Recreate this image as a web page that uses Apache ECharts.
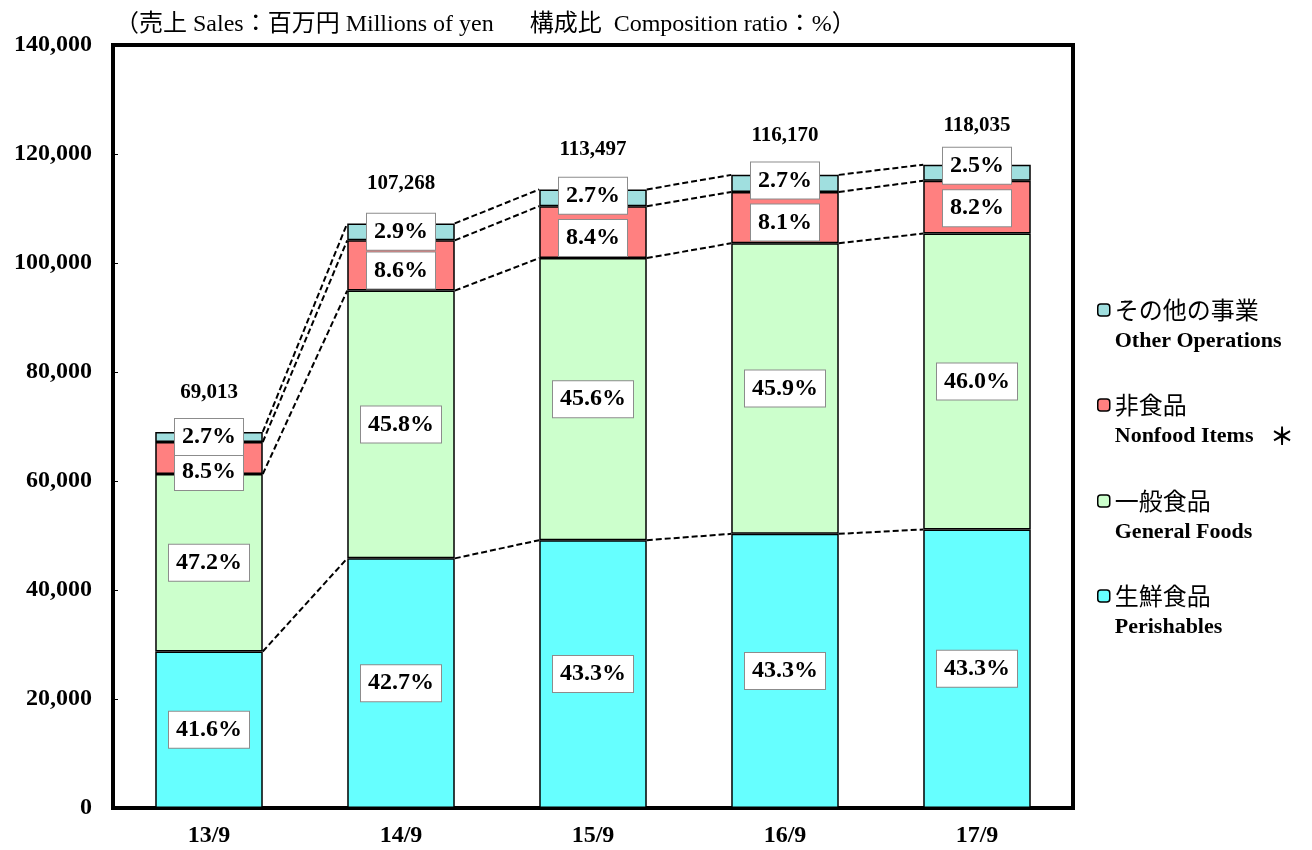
<!DOCTYPE html>
<html>
<head>
<meta charset="utf-8">
<script src="https://cdn.jsdelivr.net/npm/echarts@6/dist/echarts.min.js"></script>
<style>
  html, body { margin: 0; padding: 0; background: #fff; }
  #chart { width: 1312px; height: 850px; }
</style>
</head>
<body>
<div id="chart"></div>
<script>
// 決算期
var periods = ['13/9', '14/9', '15/9', '16/9', '17/9'];
// 売上合計 (百万円)
var totals = [69013, 107268, 113497, 116170, 118035];
// 部門別売上 (百万円) - 構成比から読み取り
var perishables = [28709, 45803, 49144, 50302, 51109];
var generalFoods = [32574, 49129, 51755, 53322, 54296];
var nonfood = [5866, 9225, 9534, 9410, 9679];
var other = [1864, 3111, 3064, 3136, 2951];
// 構成比 (%)
var pctPerishables = ['41.6', '42.7', '43.3', '43.3', '43.3'];
var pctGeneral = ['47.2', '45.8', '45.6', '45.9', '46.0'];
var pctNonfood = ['8.5', '8.6', '8.4', '8.1', '8.2'];
var pctOther = ['2.7', '2.9', '2.7', '2.7', '2.5'];

var serif = '"Liberation Serif", "Noto Sans CJK JP", serif';
var jp = '"Noto Sans CJK JP", sans-serif';
var barRatio = 0.56;

// 積み上げの境界（点線用）
var cum = periods.map(function (p, i) {
  var a = perishables[i];
  var b = a + generalFoods[i];
  var c = b + nonfood[i];
  var d = c + other[i];
  return [i, a, b, c, d];
});

function fmtNum(v) {
  return v.toString().replace(/\B(?=(\d{3})+(?!\d))/g, ',');
}

function pctLabel(arr) {
  return {
    show: true,
    position: 'inside',
    formatter: function (p) { return arr[p.dataIndex] + '%'; },
    color: '#000',
    fontFamily: serif,
    fontWeight: 'bold',
    fontSize: 24,
    backgroundColor: '#fff',
    borderColor: '#8c8c8c',
    borderWidth: 1,
    padding: [7, 7, 5, 7]
  };
}

function barSeries(name, data, color, pcts, shifts) {
  var s = {
    name: name,
    type: 'bar',
    stack: 'sales',
    barWidth: (barRatio * 100) + '%',
    data: data,
    itemStyle: { color: color, borderColor: '#000', borderWidth: 1.5 },
    label: pctLabel(pcts)
  };
  if (shifts) {
    s.labelLayout = function (p) { return { dy: shifts[p.dataIndex] }; };
  }
  return s;
}

var chart = echarts.init(document.getElementById('chart'));

chart.setOption({
  animation: false,
  title: {
    text: '（売上 Sales：百万円 Millions of yen　  構成比  Composition ratio：%）',
    left: 110,
    top: 8,
    textStyle: { fontFamily: serif, fontWeight: 'normal', fontSize: 24, color: '#000' }
  },
  grid: {
    left: 113, right: 239, top: 45, bottom: 42,
    show: true, borderColor: '#000', borderWidth: 4
  },
  legend: {
    orient: 'vertical',
    left: 1092,
    top: 269,
    itemGap: 17,
    itemWidth: 12,
    itemHeight: 12,
    data: ['その他の事業', '非食品', '一般食品', '生鮮食品'],
    itemStyle: { borderColor: '#000', borderWidth: 1.5 },
    formatter: function (name) {
      var en = {
        'その他の事業': '{b|Other Operations}',
        '非食品': '{b|Nonfood Items   }{ast|＊}',
        '一般食品': '{b|General Foods}',
        '生鮮食品': '{b|Perishables}'
      }[name];
      return '{s| }\n{a|' + name + '}\n' + en;
    },
    textStyle: {
      rich: {
        s: { lineHeight: 31, fontSize: 10 },
        a: { lineHeight: 31, fontSize: 24, fontFamily: jp, color: '#000' },
        b: { lineHeight: 31, fontSize: 22, fontWeight: 'bold', fontFamily: serif, color: '#000' },
        ast: { lineHeight: 31, fontSize: 24, fontWeight: 'bold', fontFamily: jp, color: '#000' }
      }
    }
  },
  xAxis: {
    type: 'category',
    data: periods,
    axisLine: { lineStyle: { color: '#000', width: 4 } },
    axisTick: { show: false },
    axisLabel: { color: '#000', fontFamily: serif, fontWeight: 'bold', fontSize: 24, margin: 16 }
  },
  yAxis: {
    type: 'value',
    min: 0,
    max: 140000,
    interval: 20000,
    splitLine: { show: false },
    axisLine: { show: true, lineStyle: { color: '#000', width: 4 } },
    axisTick: { show: true, inside: true, length: 5, lineStyle: { color: '#000', width: 1 } },
    axisLabel: {
      color: '#000', fontFamily: serif, fontWeight: 'bold', fontSize: 24, margin: 21,
      formatter: fmtNum
    }
  },
  series: [
    barSeries('生鮮食品', perishables, '#66ffff', pctPerishables),
    barSeries('一般食品', generalFoods, '#ccffcc', pctGeneral),
    barSeries('非食品', nonfood, '#ff8080', pctNonfood, [14, 5, 6, 5, 1]),
    barSeries('その他の事業', other, '#a0dfdf', pctOther, [0, 0, -2, -3, -7]),
    {
      name: 'connectors',
      type: 'custom',
      data: cum.slice(0, cum.length - 1),
      encode: { x: 0, y: [1, 2, 3, 4] },
      silent: true,
      z: 1,
      renderItem: function (params, api) {
        var i = api.value(0);
        var half = api.size([1, 0])[0] * barRatio / 2;
        var children = [];
        for (var k = 1; k <= 4; k++) {
          var p1 = api.coord([i, cum[i][k]]);
          var p2 = api.coord([i + 1, cum[i + 1][k]]);
          children.push({
            type: 'line',
            shape: { x1: p1[0] + half, y1: p1[1], x2: p2[0] - half, y2: p2[1] },
            style: { stroke: '#000', lineWidth: 2, lineDash: [6, 3] }
          });
        }
        return { type: 'group', children: children };
      }
    },
    {
      name: 'totals',
      type: 'custom',
      data: totals.map(function (t, i) { return [i, t]; }),
      encode: { x: 0, y: 1 },
      silent: true,
      renderItem: function (params, api) {
        var p = api.coord([api.value(0), api.value(1)]);
        return {
          type: 'text',
          style: {
            x: p[0], y: p[1] - 29, text: fmtNum(api.value(1)),
            textAlign: 'center', textVerticalAlign: 'bottom',
            font: 'bold 21px ' + serif, fill: '#000'
          }
        };
      }
    }
  ]
});
</script>
</body>
</html>
